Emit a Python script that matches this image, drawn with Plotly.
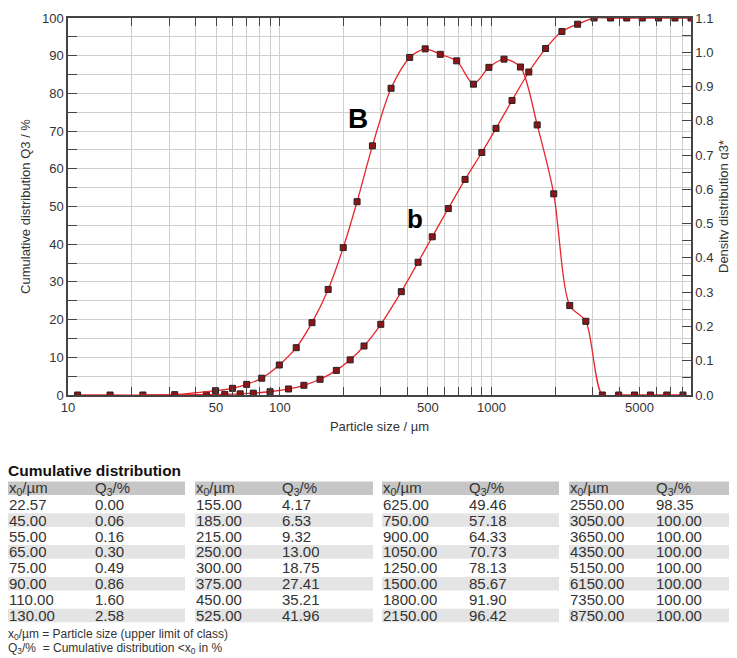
import math
import plotly.graph_objects as go

# ---------------- data ----------------
x_upper = [22.57, 45.00, 55.00, 65.00, 75.00, 90.00, 110.00, 130.00,
           155.00, 185.00, 215.00, 250.00, 300.00, 375.00, 450.00, 525.00,
           625.00, 750.00, 900.00, 1050.00, 1250.00, 1500.00, 1800.00, 2150.00,
           2550.00, 3050.00, 3650.00, 4350.00, 5150.00, 6150.00, 7350.00, 8750.00]
Q3 = [0.00, 0.06, 0.16, 0.30, 0.49, 0.86, 1.60, 2.58,
      4.17, 6.53, 9.32, 13.00, 18.75, 27.41, 35.21, 41.96,
      49.46, 57.18, 64.33, 70.73, 78.13, 85.67, 91.90, 96.42,
      98.35, 100.00, 100.00, 100.00, 100.00, 100.00, 100.00, 100.00]

dens_x = [11.1, 15.8, 31.9, 49.7, 59.8, 69.8, 82.2, 99.5, 119.6, 142.0,
          169.3, 199.4, 231.8, 273.9, 335.4, 410.8, 486.1, 572.8, 684.7, 821.6,
          972.1, 1145.7, 1369.3, 1643.2, 1967.2, 2341.5, 2788.8, 3336.7, 3984.7,
          4733.1, 5627.8, 6723.4, 8019.5]
dens_q = [0, 0, 0.001, 0.0125, 0.0195, 0.031, 0.049, 0.0875, 0.138, 0.211,
          0.308, 0.430, 0.564, 0.727, 0.895, 0.985, 1.010, 0.994, 0.975, 0.907,
          0.956, 0.980, 0.957, 0.788, 0.587, 0.261, 0.215, 0, 0, 0, 0, 0, 0]

x_grid = [10, 20, 30, 40, 50, 60, 70, 80, 90,
          100, 200, 300, 400, 500, 600, 700, 800, 900,
          1000, 2000, 3000, 4000, 5000, 6000, 7000, 8000]
x_labels = {10: "10", 50: "50", 100: "100", 500: "500", 1000: "1000", 5000: "5000"}

# ---------------- layout geometry ----------------
# the page body has an 8px margin; the figure is sized to fill the rest
OX, OY = 8, 8
W, H = 737 - OX, 658 - OY
L, R, T, B = 68 - OX, 46, 18 - OY, 263
PW, PH = W - L - R, H - T - B


def px(xp):
    """window pixel x -> paper x"""
    return (xp - OX - L) / PW


def py(yp):
    """window pixel y -> paper y"""
    return (OY + T + PH - yp) / PH


RED = "#e8262d"
MK = dict(symbol="square", size=6, color="#8e1418", line=dict(color="#222", width=1))

fig = go.Figure()
fig.add_trace(go.Scatter(x=x_upper, y=Q3, mode="lines+markers", yaxis="y",
                         line=dict(color=RED, width=1.3, shape="spline", smoothing=0.8),
                         marker=MK, name="Q3"))
fig.add_trace(go.Scatter(x=dens_x, y=dens_q, mode="lines+markers", yaxis="y2",
                         line=dict(color=RED, width=1.3, shape="spline", smoothing=0.8),
                         marker=MK, name="q3*"))

AX = "#444"
GRID = "#cfcfcf"
TF = dict(family="Liberation Sans, Arial, sans-serif", size=13, color="#333")

y_ticks = list(range(0, 101, 5))
y2_ticks = [round(i * 0.05, 2) for i in range(23)]

fig.update_layout(
    width=W, height=H,
    margin=dict(l=L, r=R, t=T, b=B, pad=0, autoexpand=False),
    paper_bgcolor="white", plot_bgcolor="white",
    showlegend=False,
    font=TF,
    xaxis=dict(type="log", range=[1, math.log10(8750)], automargin=False,
               tickmode="array", tickvals=x_grid,
               ticktext=[x_labels.get(v, "") for v in x_grid],
               ticks="inside", ticklen=8, tickcolor=AX, tickwidth=1,
               showline=True, linecolor=AX, linewidth=1.5, mirror="ticks",
               showgrid=True, gridcolor=GRID, gridwidth=1, zeroline=False,
               tickfont=TF,
               title=dict(text="Particle size / µm", font=TF, standoff=8)),
    yaxis=dict(range=[0, 100], tickmode="array", tickvals=y_ticks, automargin=False,
               ticktext=[str(v) if v % 10 == 0 else "" for v in y_ticks],
               ticks="inside", ticklen=9, tickcolor=AX,
               showline=True, linecolor=AX, linewidth=1.5,
               showgrid=True, gridcolor=GRID, gridwidth=1, zeroline=False,
               tickfont=TF,
               title=dict(text="Cumulative distribution Q3 / %", font=TF, standoff=8)),
    yaxis2=dict(range=[0, 1.1], overlaying="y", side="right", tickmode="array",
                tickvals=y2_ticks, automargin=False,
                ticktext=[f"{v:.1f}" if round(v * 100) % 10 == 0 else "" for v in y2_ticks],
                ticks="inside", ticklen=9, tickcolor=AX,
                showline=True, linecolor=AX, linewidth=1.5,
                showgrid=False, zeroline=False, tickfont=TF,
                title=dict(text="Density distribution q3*", font=TF, standoff=6)),
)

# curve labels
fig.add_annotation(x=px(358), y=py(118), xref="paper", yref="paper", text="<b>B</b>",
                   showarrow=False, xanchor="center", yanchor="middle",
                   font=dict(family="Liberation Sans, Arial", size=28, color="#000"))
fig.add_annotation(x=px(415), y=py(219), xref="paper", yref="paper", text="<b>b</b>",
                   showarrow=False, xanchor="center", yanchor="middle",
                   font=dict(family="Liberation Sans, Arial", size=26, color="#000"))

# ---------------- table ----------------
TBF = dict(family="Liberation Sans, Arial, sans-serif", size=15, color="#333")


def txt(xp, yp, text, font, h=None):
    kw = dict(height=h) if h else {}
    fig.add_annotation(x=px(xp), y=py(yp), xref="paper", yref="paper", text=text,
                       showarrow=False, xanchor="left", yanchor="middle",
                       borderpad=0, borderwidth=0, font=font, **kw)


txt(8, 470, "<b>Cumulative distribution</b>",
    dict(family="Liberation Sans, Arial", size=15.5, color="#111"), h=16)

group_left = [8, 195, 382, 569]
group_right = [185, 373, 559, 737]
header_c = 488.3
pitch = 15.9
bar_h = 13.6
rows_per_group = 8

for g in range(4):
    gl, gr = group_left[g], group_right[g]
    fig.add_shape(type="rect", xref="paper", yref="paper", layer="below",
                  x0=px(gl), x1=px(gr), y0=py(header_c - bar_h / 2), y1=py(header_c + bar_h / 2),
                  fillcolor="#c6c6c6", line=dict(width=0))
    txt(gl + 1, header_c + 0.5, "x<sub>0</sub>/µm", TBF, h=15)
    txt(gl + 87, header_c + 0.5, "Q<sub>3</sub>/%", TBF, h=15)
    for r in range(rows_per_group):
        i = g * rows_per_group + r
        yc = header_c + pitch * (r + 1)
        if r % 2 == 1:
            fig.add_shape(type="rect", xref="paper", yref="paper", layer="below",
                          x0=px(gl), x1=px(gr), y0=py(yc - bar_h / 2), y1=py(yc + bar_h / 2),
                          fillcolor="#e4e4e4", line=dict(width=0))
        txt(gl + 1, yc, f"{x_upper[i]:.2f}", TBF, h=15)
        txt(gl + 87, yc, f"{Q3[i]:.2f}", TBF, h=15)

FN = dict(family="Liberation Sans, Arial, sans-serif", size=12, color="#333")
txt(8, 634, "x<sub>0</sub>/µm = Particle size (upper limit of class)", FN, h=13)
txt(8, 648, "Q<sub>3</sub>/%  = Cumulative distribution &lt;x<sub>0</sub> in %", FN, h=13)

fig.write_html("out.html")
